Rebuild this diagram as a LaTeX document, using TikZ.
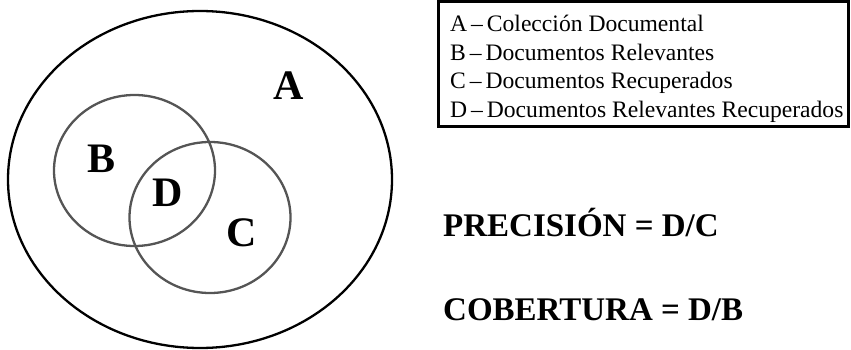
\documentclass[tikz,border=0pt]{standalone}
\usepackage{fontspec}
\setmainfont{Liberation Serif}
\definecolor{ringgray}{HTML}{555555}
\tikzset{
    setring/.style={draw=ringgray, line width=2.3pt},
    setlabel/.style={font=\fontsize{42}{42}\selectfont\bfseries, inner sep=0pt},
    legendline/.style={font=\fontsize{23.6}{23.6}\selectfont, inner sep=0pt, anchor=base west},
    formula/.style={font=\fontsize{33}{33}\selectfont\bfseries, inner sep=0pt, anchor=base west},
}

\begin{document}
\begin{tikzpicture}[x=1pt, y=-1pt]
    \def\ax{200}      % collection centre x
    \def\ay{179.5}    % collection centre y
    \def\arx{192}     % collection x radius
    \def\ary{168.5}   % collection y radius
    \def\rrx{80.5}    % set x radius
    \def\rry{75.5}    % set y radius
    \def\lx{450}      % legend text left edge
    \def\ly{31.5}     % first legend baseline
    \def\ldy{28.7}    % legend line spacing
    \useasboundingbox (0,0) rectangle (851,350);
    % Draw the document collection
    \draw[line width=2.3pt] (\ax,\ay) ellipse [x radius=\arx, y radius=\ary];
    % Draw the relevant and retrieved sets
    \draw[setring] (134.5,170.5) ellipse [x radius=\rrx, y radius=\rry];
    \draw[setring] (210,217.5) ellipse [x radius=\rrx, y radius=\rry];
    % Set labels
    \node[setlabel] (setA) at (289,85.5) {A};
    \node[setlabel] (setB) at (102,158.5) {B};
    \node[setlabel] (setD) at (168,193) {D};
    \node[setlabel] (setC) at (242,233) {C};
    % Draw the legend
    \draw[line width=3pt] (438.5,2) rectangle (848,126.5);
    \foreach \txt [count=\i] in {A\,--\,Colección Documental,
                                 B\,--\,Documentos Relevantes,
                                 C\,--\,Documentos Recuperados,
                                 D\,--\,Documentos Relevantes Recuperados}
        \node[legendline] (line\i) at (\lx,{\ly+\ldy*(\i-1)}) {\txt};
    % Precision and recall
    \node[formula] (precision) at (443,236) {PRECISIÓN = D/C};
    \node[formula] (recall) at (443,320) {COBERTURA = D/B};
\end{tikzpicture}
\end{document}
